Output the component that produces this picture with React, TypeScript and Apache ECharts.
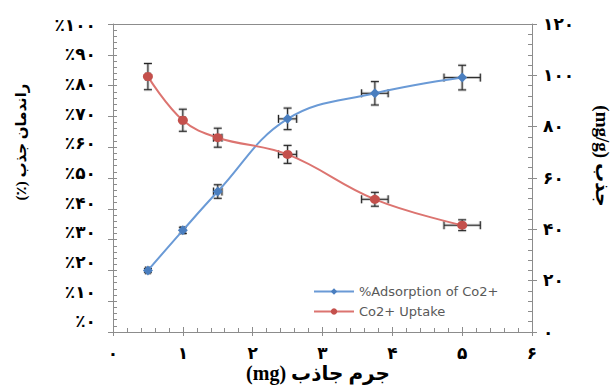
import React, { useEffect, useRef } from "react";
import * as echarts from "echarts";

// Adsorbent mass (mg) and its spread
const massMg = [0.5, 1, 1.5, 2.5, 3.75, 5];
const massErr = [0.03, 0.03, 0.06, 0.13, 0.19, 0.26];

// Removal efficiency (%) of Co2+
const adsorptionPct = [20, 33, 45.6, 69.2, 77.5, 82.6];
const adsorptionErr = [0.6, 1.0, 2.2, 3.5, 3.8, 4.0];

// Uptake capacity (mg/g)
const uptakeMgG = [99.5, 82.5, 75.7, 69.2, 51.7, 41.6];
const uptakeErr = [5.1, 4.3, 3.7, 3.5, 2.7, 2.1];

const pctTicks = [0, 10, 20, 30, 40, 50, 60, 70, 80, 90, 100];
const seriesNames = ["%Adsorption of Co2+", "Co2+ Uptake"];

const xTitle = "(mg) جرم جاذب";
const leftTitle = "(٪) راندمان جذب";
const rightTitle = "(mg/g) جذب";

const faDigits = "۰۱۲۳۴۵۶۷۸۹";
const toFa = (n: number) => String(Math.round(n)).replace(/\d/g, (d) => faDigits[Number(d)]);

const AXIS_GRAY = "#8c8c8c";
const FONT = "'Liberation Serif', 'DejaVu Sans', serif";
const BLUE_LINE = "#6a9ad6";
const BLUE_MARK = "#4a7ebf";
const RED_LINE = "#dc7470";
const RED_MARK = "#c4504c";

const labelStyle = {
  color: "#000",
  fontWeight: "bold" as const,
  fontSize: 17,
  fontFamily: FONT,
};

const plainLine = { show: false, onZero: false };

function errorBars(params: any, api: any) {
  const x = api.value(0);
  const y = api.value(1);
  const ex = api.value(2);
  const ey = api.value(3);
  const c = api.coord([x, y]);
  const children: any[] = [];
  const cap = 4;
  const segs: number[][] = [];
  if (ey > 0) {
    const top = api.coord([x, y + ey])[1];
    const bot = api.coord([x, y - ey])[1];
    segs.push([c[0], top, c[0], bot]);
    segs.push([c[0] - cap, top, c[0] + cap, top]);
    segs.push([c[0] - cap, bot, c[0] + cap, bot]);
  }
  if (ex > 0) {
    const l = api.coord([x - ex, y])[0];
    const r = api.coord([x + ex, y])[0];
    segs.push([l, c[1], r, c[1]]);
    segs.push([l, c[1] - cap, l, c[1] + cap]);
    segs.push([r, c[1] - cap, r, c[1] + cap]);
  }
  segs.forEach((s) => {
    children.push({
      type: "line",
      shape: { x1: s[0], y1: s[1], x2: s[2], y2: s[3] },
      style: { stroke: "rgba(160,160,160,0.5)", lineWidth: 3 },
    });
  });
  segs.forEach((s) => {
    children.push({
      type: "line",
      shape: { x1: s[0], y1: s[1], x2: s[2], y2: s[3] },
      style: { stroke: "#222", lineWidth: 1 },
    });
  });
  return { type: "group", children };
}

export default function App() {
  const ref = useRef<HTMLDivElement>(null);

  useEffect(() => {
    if (!ref.current) return;
    const chart = echarts.init(ref.current, null, { renderer: "svg" });

    const blueData = massMg.map((m, i) => [m, adsorptionPct[i]]);
    const redData = massMg.map((m, i) => [m, uptakeMgG[i]]);
    const blueErr = massMg.map((m, i) => [m, adsorptionPct[i], massErr[i], adsorptionErr[i]]);
    const redErr = massMg.map((m, i) => [m, uptakeMgG[i], massErr[i], uptakeErr[i]]);

    const axisLine = { show: true, onZero: false, lineStyle: { color: AXIS_GRAY } };
    const outerTick = { show: true, inside: false, length: 5, lineStyle: { color: AXIS_GRAY } };
    const innerTick = { show: true, inside: true, length: 4, lineStyle: { color: AXIS_GRAY } };
    const minor = { show: true, splitNumber: 5, length: 4, lineStyle: { color: AXIS_GRAY } };

    chart.setOption({
      animation: false,
      backgroundColor: "#fff",
      grid: { left: 113, right: 84, top: 24, bottom: 55, outerBoundsMode: "none" },
      xAxis: [
        {
          type: "value",
          position: "bottom",
          min: 0,
          max: 6,
          interval: 1,
          axisLine,
          axisTick: { ...outerTick, length: 4 },
          axisLabel: { ...labelStyle, margin: 13, formatter: (v: number) => toFa(v) },
          splitLine: { show: false },
        },
        {
          type: "value",
          position: "top",
          min: 0,
          max: 6,
          interval: 1,
          axisLine,
          axisTick: { show: false },
          axisLabel: { show: false },
          splitLine: { show: false },
        },
        {
          type: "value",
          position: "bottom",
          min: 0,
          max: 6,
          interval: 1,
          axisLine: plainLine,
          axisTick: { ...innerTick, length: 5 },
          minorTick: minor,
          axisLabel: { show: false },
          splitLine: { show: false },
        },
      ],
      yAxis: [
        {
          type: "value",
          position: "left",
          min: 0,
          max: 100,
          interval: 10,
          axisLine,
          axisTick: outerTick,
          axisLabel: { show: false },
          splitLine: { show: false },
        },
        {
          type: "value",
          position: "right",
          min: 0,
          max: 120,
          interval: 20,
          axisLine,
          axisTick: outerTick,
          axisLabel: { ...labelStyle, margin: 11, formatter: (v: number) => toFa(v) },
          splitLine: { show: false },
        },
        {
          // percentage labels of the left axis
          type: "value",
          position: "left",
          min: -3.37,
          max: 100.34,
          axisLine: plainLine,
          axisTick: { show: false },
          axisLabel: {
            ...labelStyle,
            margin: 17,
            customValues: pctTicks,
            formatter: (v: number) => "٪" + toFa(v),
          },
          splitLine: { show: false },
        },
        {
          type: "value",
          position: "left",
          min: 0,
          max: 100,
          interval: 10,
          axisLine: plainLine,
          axisTick: innerTick,
          minorTick: minor,
          axisLabel: { show: false },
          splitLine: { show: false },
        },
        {
          type: "value",
          position: "right",
          min: 0,
          max: 120,
          interval: 20,
          axisLine: plainLine,
          axisTick: innerTick,
          minorTick: minor,
          axisLabel: { show: false },
          splitLine: { show: false },
        },
      ],
      legend: {
        data: seriesNames,
        orient: "vertical",
        left: 308,
        top: 280,
        itemWidth: 40,
        itemHeight: 8,
        itemGap: 7,
        textStyle: { fontSize: 13, color: "#595959", fontFamily: "'DejaVu Sans', sans-serif" },
      },
      graphic: [
        {
          type: "text",
          x: 318,
          y: 373,
          style: {
            text: xTitle,
            fill: "#000",
            font: "bold 20px " + FONT,
            align: "center",
            verticalAlign: "middle",
          },
        },
        {
          type: "text",
          x: 21,
          y: 142,
          rotation: Math.PI / 2,
          style: {
            text: leftTitle,
            fill: "#000",
            font: "bold 15px " + FONT,
            align: "center",
            verticalAlign: "middle",
          },
        },
        {
          type: "text",
          x: 602,
          y: 156,
          rotation: -Math.PI / 2,
          style: {
            text: rightTitle,
            fill: "#000",
            font: "bold 19px " + FONT,
            align: "center",
            verticalAlign: "middle",
          },
        },
      ],
      series: [
        {
          type: "custom",
          xAxisIndex: 0,
          yAxisIndex: 0,
          renderItem: errorBars,
          data: blueErr,
          encode: { x: 0, y: 1 },
          z: 1,
          silent: true,
        },
        {
          type: "custom",
          xAxisIndex: 0,
          yAxisIndex: 1,
          renderItem: errorBars,
          data: redErr,
          encode: { x: 0, y: 1 },
          z: 1,
          silent: true,
        },
        {
          name: seriesNames[0],
          type: "line",
          xAxisIndex: 0,
          yAxisIndex: 0,
          data: blueData,
          smooth: 0.4,
          symbol: "diamond",
          symbolSize: [10, 10],
          lineStyle: { color: BLUE_LINE, width: 2 },
          itemStyle: { color: BLUE_MARK },
          z: 3,
        },
        {
          name: seriesNames[1],
          type: "line",
          xAxisIndex: 0,
          yAxisIndex: 1,
          data: redData,
          smooth: 0.4,
          symbol: "circle",
          symbolSize: [10, 9],
          lineStyle: { color: RED_LINE, width: 2 },
          itemStyle: { color: RED_MARK },
          z: 3,
        },
      ],
    });

    return () => chart.dispose();
  }, []);

  return (
    <div
      ref={ref}
      style={{ position: "fixed", left: 0, top: 0, width: 616, height: 387, background: "#fff" }}
    />
  );
}
